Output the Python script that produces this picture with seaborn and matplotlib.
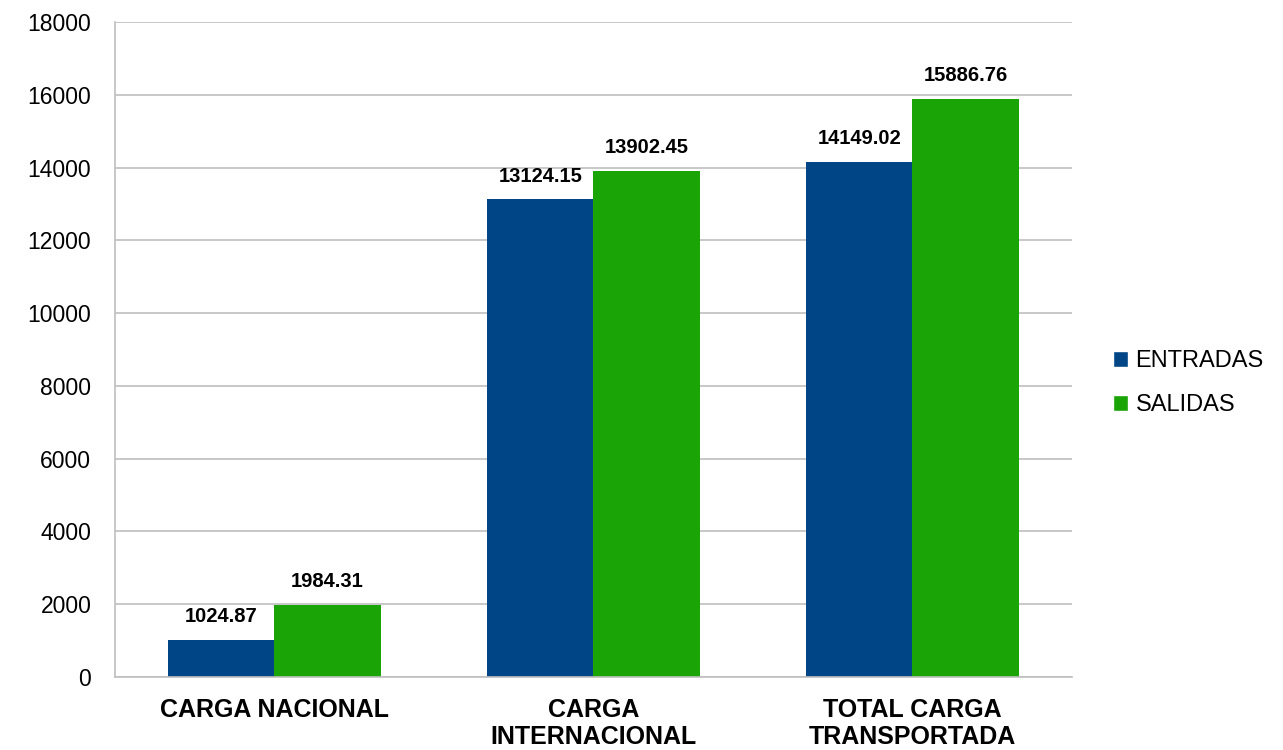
import pandas as pd
import matplotlib
matplotlib.use('Agg')
import matplotlib.pyplot as plt
import seaborn as sns
from matplotlib.patches import Patch

categorias = ['CARGA NACIONAL', 'CARGA\nINTERNACIONAL', 'TOTAL CARGA\nTRANSPORTADA']
entradas = [1024.87, 13124.15, 14149.02]
salidas = [1984.31, 13902.45, 15886.76]
series = ['ENTRADAS', 'SALIDAS']
colores = ['#004586', '#1AA406']

df = pd.DataFrame({
    'categoria': categorias * 2,
    'serie': [series[0]] * 3 + [series[1]] * 3,
    'valor': entradas + salidas,
})

sns.set_style('white')
plt.rcParams['font.family'] = ['Liberation Sans', 'DejaVu Sans']
plt.rcParams['text.color'] = 'black'
plt.rcParams['xtick.color'] = 'black'
plt.rcParams['ytick.color'] = 'black'

fig = plt.figure(figsize=(12.83, 7.5), dpi=100)
ax = fig.add_axes([0.0896, 0.0973, 0.7459, 0.8733])

sns.barplot(data=df, x='categoria', y='valor', hue='serie', palette=colores,
            width=0.665, saturation=1, linewidth=0, ax=ax, legend=False)

for c in ax.containers:
    ax.bar_label(c, fmt='%.2f', padding=10, fontsize=14.5, fontweight='bold')

# ejes y rejilla
ax.set_ylim(0, 18000)
ax.set_yticks(range(0, 18001, 2000))
ax.yaxis.grid(True, color='#BFBFBF', linewidth=1.2)
ax.set_axisbelow(True)
ax.set_xlim(-0.5, 2.5)
for s in ['top', 'right']:
    ax.spines[s].set_visible(False)
for s in ['left', 'bottom']:
    ax.spines[s].set_color('#BFBFBF')
    ax.spines[s].set_linewidth(1.2)

ax.set_xticks([-0.5, 0.5, 1.5, 2.5], minor=True)
ax.set_xticks([0, 1, 2])
ax.set_xticklabels(categorias, fontsize=18, fontweight='bold', linespacing=1.15)
ax.tick_params(axis='x', which='major', length=0, pad=15)
ax.tick_params(axis='x', which='minor', length=5, color='#BFBFBF', width=1.2)
ax.tick_params(axis='y', length=6, color='#BFBFBF', width=1.2, labelsize=16.5, pad=11)
ax.set_xlabel('')
ax.set_ylabel('')

handles = [Patch(facecolor=colores[i], label=series[i]) for i in range(2)]
fig.legend(handles=handles, loc='center left', bbox_to_anchor=(0.851, 0.489),
           frameon=False, fontsize=17, handlelength=0.65, handleheight=0.65,
           handletextpad=0.3, labelspacing=0.95)

fig.savefig('out.png', dpi=100)
